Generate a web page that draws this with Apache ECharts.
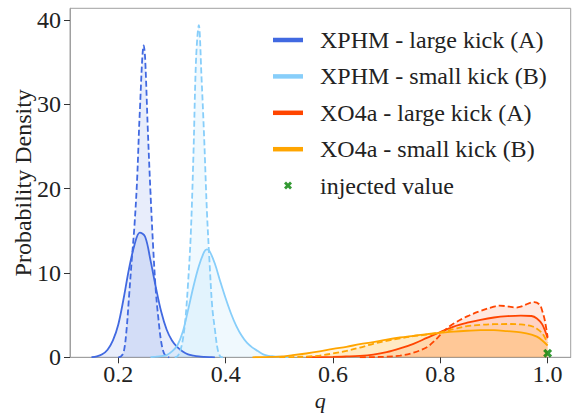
<!DOCTYPE html>
<html>
<head>
<meta charset="utf-8">
<script src="https://cdn.jsdelivr.net/npm/echarts@6/dist/echarts.min.js"></script>
<style>
html,body{margin:0;padding:0;background:#fff;}
#chart{width:573px;height:414px;}
</style>
</head>
<body>
<div id="chart"></div>
<script>
// ---- data ----
const seriesNames = ["XPHM - large kick (A)", "XPHM - small kick (B)", "XO4a - large kick (A)", "XO4a - small kick (B)"];
const injectedName = "injected value";
const xTicks = [0.2, 0.4, 0.6, 0.8, 1.0];
const yTicks = [0, 10, 20, 30, 40];

// XPHM large kick (A) - solid
const xphmA_solid_q = [0.15,0.16,0.17,0.18,0.19,0.20,0.21,0.22,0.23,0.24,0.25,0.26,0.27,0.28,0.29,0.30,0.31,0.32,0.33,0.34,0.35,0.36,0.37,0.38];
const xphmA_solid_p = [0.02,0.1,0.35,0.9,2.0,3.9,7.0,10.5,13.3,14.8,14.3,11.5,8.3,5.4,3.3,2.0,1.2,0.7,0.35,0.2,0.1,0.05,0.02,0];
// XPHM large kick (A) - dashed
const xphmA_dash_q = [0.200,0.205,0.210,0.215,0.220,0.225,0.230,0.235,0.240,0.2475,0.250,0.255,0.260,0.265,0.270,0.275,0.280,0.285,0.290,0.295];
const xphmA_dash_p = [0,0.1,0.6,3.0,7.2,11.5,15.5,21.0,29.0,37.0,35.5,27.0,19.5,13.0,7.8,4.4,1.8,0.5,0.1,0];
// XPHM small kick (B) - solid
const xphmB_solid_q = [0.26,0.27,0.28,0.29,0.30,0.31,0.32,0.33,0.34,0.35,0.36,0.365,0.37,0.38,0.39,0.40,0.41,0.42,0.43,0.44,0.45,0.46,0.47,0.48,0.49,0.50,0.51,0.52];
const xphmB_solid_p = [0.02,0.08,0.15,0.25,0.7,1.4,3.0,5.6,8.4,10.8,12.5,12.8,12.6,11.1,9.0,7.0,5.2,3.7,2.55,1.7,1.15,0.75,0.35,0.18,0.12,0.08,0.05,0.02];
// XPHM small kick (B) - dashed
const xphmB_dash_q = [0.305,0.310,0.315,0.320,0.325,0.330,0.335,0.340,0.345,0.350,0.355,0.360,0.365,0.370,0.375,0.380,0.385,0.390,0.395];
const xphmB_dash_p = [0,0.1,0.7,2.0,4.5,8.8,14.5,24.0,35.5,39.4,33.3,26.0,17.5,11.3,6.0,3.3,1.0,0.1,0];
// XO4a large kick (A) - solid
const xo4aA_solid_q = [0.55,0.60,0.625,0.65,0.675,0.70,0.725,0.75,0.775,0.80,0.825,0.85,0.875,0.90,0.925,0.95,0.97,0.98,0.99,1.00];
const xo4aA_solid_p = [0.01,0.05,0.1,0.17,0.32,0.6,1.05,1.6,2.3,3.0,3.65,4.1,4.45,4.72,4.88,4.95,4.9,4.6,3.9,2.25];
// XO4a large kick (A) - dashed
const xo4aA_dash_q = [0.65,0.675,0.70,0.725,0.75,0.775,0.79,0.80,0.81,0.825,0.85,0.875,0.90,0.91,0.925,0.94,0.95,0.965,0.975,0.985,0.99,0.995,1.00];
const xo4aA_dash_p = [0,0.02,0.08,0.2,0.55,1.2,2.0,2.65,3.3,4.0,4.85,5.5,6.0,6.12,6.05,5.9,6.0,6.4,6.55,6.25,5.5,4.3,2.4];
// XO4a small kick (B) - solid
const xo4aB_solid_q = [0.45,0.475,0.50,0.525,0.55,0.575,0.60,0.625,0.65,0.675,0.70,0.725,0.75,0.775,0.80,0.825,0.85,0.875,0.90,0.925,0.95,0.97,0.98,0.99,1.00];
const xo4aB_solid_p = [0,0.03,0.08,0.25,0.45,0.7,1.0,1.25,1.55,1.8,2.1,2.35,2.55,2.75,2.9,3.05,3.15,3.22,3.22,3.1,2.95,2.7,2.45,2.0,1.4];
// XO4a small kick (B) - dashed
const xo4aB_dash_q = [0.50,0.525,0.55,0.575,0.60,0.625,0.65,0.675,0.70,0.725,0.75,0.775,0.80,0.825,0.85,0.875,0.90,0.925,0.95,0.97,0.98,0.99,1.00];
const xo4aB_dash_p = [0,0.03,0.08,0.2,0.45,0.75,1.15,1.6,1.95,2.25,2.5,2.7,2.95,3.35,3.7,3.85,3.93,3.95,3.9,3.7,3.4,2.85,1.7];
// injected value
const injected_q = [1.0];
const injected_p = [0.47];

// ---- chart ----
const colors = ["#4169E1", "#87CEFA", "#FF4500", "#FFA500"];
const FONT = "'Liberation Serif', 'DejaVu Serif', serif";
const pair = (xs, ys) => xs.map((x, i) => [x, ys[i]]);

function kde(name, xs, ys, color, dashed) {
  return {
    name: name,
    type: "line",
    data: pair(xs, ys),
    showSymbol: false,
    symbol: "none",
    smooth: 0.35,
    color: color,
    lineStyle: { color: color, width: 1.8, type: dashed ? [6, 3] : "solid" },
    areaStyle: { color: color, opacity: 0.12 },
    z: 2
  };
}

const xIcon = "path://M0,1.5 L1.5,0 L3,1.5 L4.5,0 L6,1.5 L4.5,3 L6,4.5 L4.5,6 L3,4.5 L1.5,6 L0,4.5 L1.5,3 Z";
const barIcon = "path://M0,0 L30,0 L30,4.5 L0,4.5 Z";

const option = {
  animation: false,
  backgroundColor: "#fff",
  grid: { left: 70, right: 2.3, top: 8.3, bottom: 56.7, show: true, borderColor: "#a0a0a0", borderWidth: 1, backgroundColor: "transparent", containLabel: false, outerBoundsMode: "none" },
  xAxis: {
    type: "value", min: 0.110, max: 1.043,
    name: "q", nameLocation: "middle", nameGap: 33, nameMoveOverlap: false,
    nameTextStyle: { fontFamily: FONT, fontSize: 22, fontStyle: "italic", color: "#222", lineHeight: 20 },
    axisLine: { show: true, lineStyle: { color: "#a0a0a0", width: 1 } },
    axisTick: { show: true, length: 6, inside: false, lineStyle: { color: "#333" }, customValues: xTicks },
    axisLabel: { show: true, margin: 7, fontFamily: FONT, fontSize: 24, color: "#222", lineHeight: 20, customValues: xTicks, formatter: v => v.toFixed(1) },
    splitLine: { show: false }
  },
  yAxis: {
    type: "value", min: 0, max: 41.4,
    name: "Probability Density", nameLocation: "middle", nameGap: 35, nameRotate: 90, nameMoveOverlap: false,
    nameTextStyle: { fontFamily: FONT, fontSize: 24, color: "#222" },
    axisLine: { show: true, lineStyle: { color: "#a0a0a0", width: 1 } },
    axisTick: { show: true, length: 6, inside: false, lineStyle: { color: "#333" }, customValues: yTicks },
    axisLabel: { show: true, margin: 9, fontFamily: FONT, fontSize: 24, color: "#222", customValues: yTicks, formatter: v => String(v) },
    splitLine: { show: false }
  },
  legend: {
    data: seriesNames.map((n, i) => ({ name: n, icon: barIcon, itemStyle: { color: colors[i] } }))
      .concat([{ name: injectedName, icon: xIcon, itemStyle: { color: "#008000" } }]),
    orient: "vertical", left: 273, top: 28, padding: 0,
    itemWidth: 30, itemHeight: 8, itemGap: 12.4,
    symbolKeepAspect: true,
    selectedMode: false,
    textStyle: { fontFamily: FONT, fontSize: 24, color: "#222", lineHeight: 24, padding: [0, 0, 0, 12] }
  },
  series: [
    kde(seriesNames[0], xphmA_solid_q, xphmA_solid_p, colors[0], false),
    kde(seriesNames[0] + " dashed", xphmA_dash_q, xphmA_dash_p, colors[0], true),
    kde(seriesNames[1], xphmB_solid_q, xphmB_solid_p, colors[1], false),
    kde(seriesNames[1] + " dashed", xphmB_dash_q, xphmB_dash_p, colors[1], true),
    kde(seriesNames[2], xo4aA_solid_q, xo4aA_solid_p, colors[2], false),
    kde(seriesNames[2] + " dashed", xo4aA_dash_q, xo4aA_dash_p, colors[2], true),
    kde(seriesNames[3], xo4aB_solid_q, xo4aB_solid_p, colors[3], false),
    kde(seriesNames[3] + " dashed", xo4aB_dash_q, xo4aB_dash_p, colors[3], true),
    {
      name: injectedName, type: "scatter",
      data: pair(injected_q, injected_p),
      symbol: xIcon, symbolSize: 9,
      itemStyle: { color: "#008000" },
      clip: false, z: 5
    }
  ]
};

const chart = echarts.init(document.getElementById("chart"), null, { renderer: "svg", width: 573, height: 414 });
chart.setOption(option);
</script>
</body>
</html>
